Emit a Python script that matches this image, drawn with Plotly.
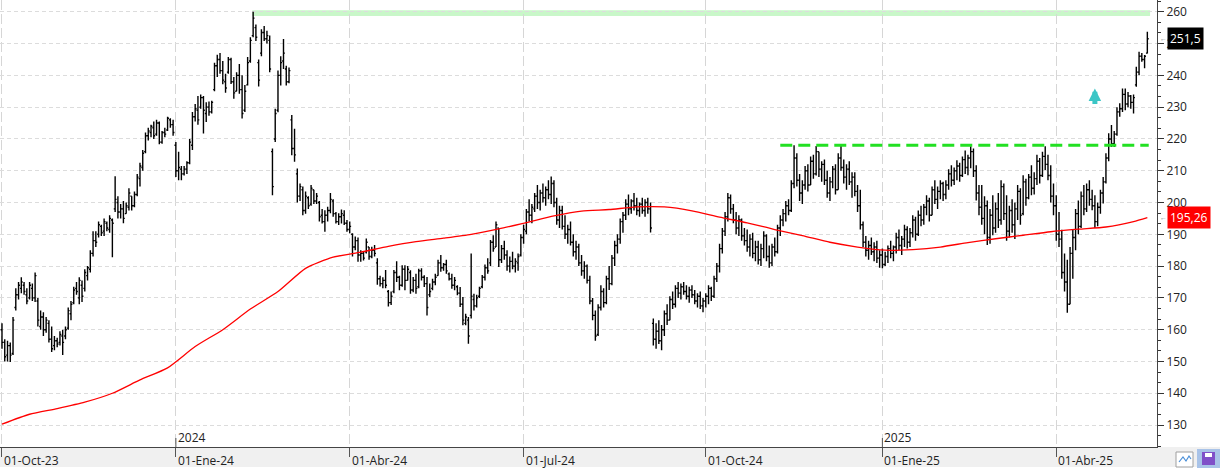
import plotly.graph_objects as go

# ---------------- data (daily bars) ----------------
opens = [
    160, 156, 152, 155, 152.5, 167, 171, 173, 174, 171,
    170, 173, 170, 169, 161, 164, 160, 162, 157, 155,
    156.5, 156, 158, 158, 160.5, 165, 168.5, 173, 170, 174,
    173, 177, 179, 184, 188, 190, 192.5, 191, 193.5, 191.5,
    194.5, 198, 200, 197, 198, 196.5, 198.5, 202, 199, 202.5,
    207.5, 211, 216, 221, 222, 223.5, 221.5, 225, 219, 222,
    222.8, 226, 224.5, 218, 210, 210.5, 209, 210.5, 212.5, 218,
    227, 229, 230, 233, 228, 230, 228.5, 235.5, 243, 245,
    241.5, 238, 241, 245, 238, 235, 240, 235.5, 229, 237,
    244.5, 252.5, 255, 244, 247, 253.5, 251.5, 251, 216, 220,
    229, 240, 244.5, 242, 238, 226, 217, 209, 202, 204,
    197.5, 201.5, 199.5, 204, 200.5, 200, 196, 194, 196, 197.5,
    200.5, 196.5, 194, 195.5, 196, 193.5, 191.5, 190, 186, 188,
    183.5, 184, 184.5, 186, 183, 185, 181, 176, 174.5, 175.5,
    172, 168.5, 172, 178, 176.5, 174, 179, 175.5, 178, 172.5,
    175.5, 173.5, 178.5, 176.5, 174.5, 171, 173, 175, 177, 181,
    179.5, 180.5, 177.5, 176, 174, 173.5, 171.5, 168, 162, 163,
    164.5, 169.5, 167.5, 170.5, 173.5, 176.5, 179.5, 181, 187.5, 186,
    192, 182, 185.5, 183.5, 180, 181.5, 180, 181, 183.5, 189,
    191, 197, 196, 198, 202, 200, 203, 201.5, 204, 202.5,
    206, 200, 194.5, 197.5, 192.5, 190, 191.5, 187.5, 184.5, 186,
    181, 178.5, 180, 175.5, 169, 164.5, 158.5, 167, 172, 168.5,
    176, 174.5, 182.5, 186.5, 188.5, 194, 196, 199.5, 198, 200.5,
    199, 197.5, 199.5, 197.5, 200, 198, 162, 157, 159.5, 156.5,
    160, 165, 163, 169.5, 168, 173, 171.5, 173.5, 172, 170.5,
    172.5, 171, 169, 170.5, 167.5, 169, 170.5, 173, 170.5, 176,
    180, 185.5, 191, 195.5, 201.5, 198, 194.5, 192, 194.5, 189.5,
    188, 186, 188.5, 184, 186, 182, 185.5, 189.5, 183, 181,
    186, 184.5, 192, 194.5, 196.5, 199, 197.5, 206, 214, 207,
    203, 205.5, 210, 205.5, 213, 209, 216, 210.5, 212, 207,
    203, 206.5, 210.5, 204, 214, 211, 208, 210.5, 206.5, 208,
    203.5, 199, 193, 187.5, 185, 186.5, 184.5, 186, 182.5, 183.5,
    180.5, 183, 185.5, 184, 186, 189, 186.5, 188.5, 191.5, 187.5,
    190.5, 194.5, 190, 196, 194.5, 198.5, 200.5, 196, 204, 201,
    203.5, 206, 202.5, 205.5, 209, 207, 210, 211.5, 208.5, 213.5,
    211, 214, 216, 210, 203, 198.5, 195, 199, 189, 196,
    192, 198, 194.5, 205, 196.5, 191, 197.5, 193, 198, 203.5,
    196.5, 206.5, 201.5, 208, 204.5, 207.5, 213, 208.5, 214.5, 212,
    208.5, 202, 199, 190, 188.5, 178, 175, 168, 184, 189,
    196.5, 192.5, 202, 198, 204, 201, 199, 194, 198.5, 203,
    206.5, 214, 220, 218.5, 221.5, 228.5, 229.5, 234, 231, 233.5,
    231.5, 237, 241, 246, 245, 247,
]
highs = [
    162, 157, 156.5, 156, 164, 173, 175, 176.5, 175, 173,
    175, 174.5, 178, 170, 166, 165.5, 164, 163, 161, 158,
    157.5, 159.5, 160, 161, 167, 169, 173.5, 175, 176.5, 175.5,
    179, 180, 185, 191, 191, 194, 193, 195, 194, 196,
    195, 208.3, 202, 199.5, 200.5, 200, 204.5, 202, 203.5, 209,
    212.5, 216.5, 222, 223.5, 224.5, 225.5, 226, 225.5, 222.5, 223.5,
    227, 226.5, 226, 219, 216, 211.5, 211.5, 213, 220, 228.5,
    231, 233.5, 234, 233.5, 231.5, 231.8, 232, 244, 246.5, 247,
    244.5, 240.5, 245.8, 245.5, 239.5, 241, 243.6, 240, 237, 245.8,
    252, 260, 256, 245, 254.5, 255.5, 254, 252.5, 217, 229.5,
    241.5, 246, 251.4, 243, 242.5, 227.5, 223.2, 210.7, 206, 205,
    203.5, 202, 205.5, 204, 203, 200.5, 198, 197.6, 198.7, 203,
    201, 197, 196.6, 197.8, 197.6, 194.5, 194, 190.3, 189.3, 189,
    185, 184.5, 188.7, 186, 186.1, 186.6, 182.5, 177, 176.5, 178.8,
    172.5, 172, 178.8, 181.5, 177, 180.3, 180.3, 180, 178.7, 176.6,
    177.6, 179.2, 179.3, 177.1, 176.6, 174.5, 176, 177.6, 182, 183.5,
    181, 182, 178, 177.6, 176.6, 174, 173.4, 170.3, 165, 164,
    184, 171.3, 171, 173.5, 177.2, 180.5, 182.5, 188.2, 189.7, 194,
    192, 186.6, 188, 185, 183, 184.5, 182.5, 184, 190, 193,
    198, 201, 199.5, 203, 205.5, 204, 206, 205, 207, 208.2,
    207, 201.5, 199, 199, 196, 193, 194, 190, 188, 187,
    183.5, 181.5, 180.5, 177, 170, 166, 168, 174, 173, 177,
    180, 183.5, 188, 190, 195, 197, 201, 202.5, 201, 203,
    201.5, 200, 201.5, 201, 201.5, 200, 163.5, 162, 163, 161.5,
    166, 168, 170.5, 172, 174, 175, 174.5, 175, 174, 173.5,
    174, 172.5, 171.5, 172, 170, 171.5, 174, 173.5, 177, 181,
    187, 192, 197, 203, 202.5, 199.5, 197, 196, 195, 192,
    191.5, 190, 190.5, 188, 188, 187, 191, 190, 186.5, 187,
    189, 193, 196, 198, 200.5, 201, 207, 218, 215.5, 209,
    207, 211.5, 212, 214.5, 215, 217.8, 216, 213, 213.5, 210,
    208, 211.5, 212, 215.5, 217.8, 213.5, 212, 213, 209.5, 209.5,
    205.5, 204, 194, 189.5, 188, 189, 187.5, 188, 185, 185.5,
    184.5, 186.5, 188, 186.5, 190.5, 191.5, 189.5, 193, 192.5, 192,
    196, 195.5, 197.5, 199, 199.5, 202.3, 201.5, 205, 207, 205,
    207, 206.5, 207, 210.5, 211.7, 211, 213.3, 212.5, 214.5, 216.4,
    215, 217.7, 217, 211.7, 205.5, 205.5, 202, 200.6, 198, 202.3,
    200, 203, 207, 206, 202.3, 199, 201, 200, 205.5, 204.5,
    208.6, 207.5, 209, 211.7, 209.5, 215, 214, 216, 217.7, 215,
    211.7, 206, 202.3, 197, 191.4, 184, 182, 186, 191.4, 198,
    200.6, 203.5, 205.5, 206, 207, 204, 202.3, 200, 204, 208,
    215.5, 221.8, 224.4, 222.5, 230, 231.2, 235.9, 235.9, 234.8, 233.8,
    234, 242.7, 247.4, 247, 246.4, 253.7,
]
lows = [
    154, 150, 150, 149.8, 152, 166, 169.5, 171.5, 171, 168,
    169.5, 169, 168.7, 161, 160, 158, 159, 156, 153, 153.5,
    154.5, 155, 152, 157, 160, 163, 168, 171, 168, 168.7,
    172, 175.5, 178, 183, 186, 189, 189.5, 189.5, 191, 190.5,
    182.8, 197, 195, 195, 193.5, 196.5, 197.5, 197.5, 198.5, 202,
    205, 210, 215.5, 219.5, 220.5, 220, 221, 218.3, 218.5, 220.5,
    222.5, 223.5, 221, 208, 207, 207, 208.5, 209, 212, 216.5,
    225.5, 224.5, 229.5, 221.7, 225.3, 227.3, 228, 235, 239.5, 240.5,
    237.2, 234.5, 240.5, 237.3, 232.6, 235, 234.2, 226.4, 228.5, 236.8,
    244, 252, 250.8, 236.5, 246, 250.8, 250, 241, 202.3, 219,
    228.4, 236.8, 242, 236.8, 237.5, 214.9, 212.8, 200, 200.5, 196,
    196.5, 198, 199, 199.5, 199.5, 194, 193.4, 190.8, 194, 196.6,
    195.5, 193.4, 192.9, 193.4, 192.9, 190.8, 190.3, 183, 185, 181.4,
    181.4, 181.8, 184, 182, 182.5, 183, 174.1, 173.6, 173, 173,
    167.3, 167.8, 171.5, 175, 172.4, 173.5, 172.4, 175.5, 171.3, 171.8,
    171.3, 173, 175.5, 173.4, 164.5, 170.3, 172.4, 174, 177, 178.2,
    178.5, 177.6, 175.5, 172.9, 172.4, 170.8, 167.1, 161.4, 161.4, 155.6,
    163.5, 166, 167, 170, 173, 175.5, 177.6, 180, 184.5, 186,
    179.7, 181, 182, 178.5, 178, 179, 178, 178.5, 183, 187,
    190, 194, 193.5, 197, 198, 197.5, 200, 199, 201, 199.5,
    198.5, 193, 192, 191.5, 188.5, 187, 186.5, 183, 182, 180,
    177, 176, 174.5, 168, 163, 156.5, 158, 166, 167, 168,
    172.5, 174, 180, 184, 187, 190.5, 194.5, 196, 196.5, 197.5,
    196, 195.5, 196.5, 195.5, 196.5, 190.6, 155, 154, 155.5, 153.5,
    158, 161.5, 163, 166.5, 167, 170, 169.5, 171, 169.5, 168.5,
    170, 168, 167, 166.5, 165.5, 167, 168, 169, 170, 175,
    178, 184, 189.5, 194, 196.5, 193.5, 190, 189.5, 188, 186.5,
    184.5, 183, 182.5, 181.5, 180.5, 180, 182.5, 181.5, 179.5, 180,
    183, 184, 189.5, 192.5, 194, 196, 197, 204.5, 205, 200.5,
    199.5, 204, 203.5, 205.5, 207.5, 208.5, 208, 206.5, 205.5, 201.5,
    200.5, 204.5, 202.5, 204, 210, 206, 204, 205.5, 201.5, 202,
    197, 191.5, 186, 183, 182, 183.5, 181.5, 181, 179.5, 179.3,
    180, 181, 182.5, 181.5, 184, 185, 183.5, 186, 185.5, 186,
    189, 188, 189.5, 192.5, 193, 196, 194, 196, 199.5, 198,
    201, 200.5, 201, 204, 205, 205.5, 207, 206.5, 208, 209,
    208.6, 210.8, 208, 200.6, 196, 193, 190, 186.6, 187, 189.7,
    190.5, 192, 193, 194.5, 188, 189, 190.5, 188.5, 194.5, 193,
    196, 199, 201, 202.3, 202.5, 205.5, 206, 208, 210.2, 207,
    200, 196, 188, 186, 176, 172, 165.3, 168, 176, 185,
    190, 192, 196, 197, 199, 197.6, 192, 192.5, 196.5, 199.7,
    206, 213, 217.5, 217.5, 221, 227, 228.5, 229, 230, 229.5,
    228, 236.4, 240, 244.3, 242.2, 246.9,
]
closes = [
    156, 151.5, 155, 152, 163, 171, 174, 175, 172, 169,
    174, 170, 177, 163, 164, 160, 163, 157, 154, 156.5,
    155.5, 158.5, 156, 160, 166, 168, 172.5, 172, 175.5, 170.5,
    178, 179.5, 184, 188, 187.5, 193, 190.5, 194, 192, 195,
    193.5, 201, 197, 198, 195, 199, 203, 199, 202.5, 208,
    211.5, 215.5, 221, 222.5, 224, 221, 225, 219, 222, 221.5,
    226.5, 224.5, 222, 210, 211, 209, 210.5, 212.5, 219, 227,
    229.5, 226, 233, 229, 230, 228.5, 231.5, 243, 245, 241.5,
    238.5, 236, 245, 238, 234.5, 240, 235.5, 228, 235, 244,
    251, 258, 252, 238.5, 253.5, 251.5, 252.5, 242, 205, 228,
    240, 244, 247, 238, 241.5, 217, 215, 202, 205, 197.5,
    202, 199, 204.5, 200.5, 202, 195.5, 194, 196, 197.5, 201,
    196.5, 194, 195.5, 196.5, 193.5, 191.5, 192.5, 186, 188, 183.5,
    184, 182.5, 187.5, 183, 185, 184, 176, 174.5, 175.5, 174,
    168.5, 170.5, 178, 176.5, 174, 179, 175.5, 179, 172.5, 175.5,
    173, 178.5, 176.5, 174.5, 167, 172, 175, 176.5, 181, 179.5,
    180.5, 178.5, 176, 174, 175.5, 171.5, 168, 163, 164, 158,
    170.5, 167.5, 170, 173, 176.5, 179.5, 178.5, 187.5, 185.5, 193,
    182, 185.5, 183.5, 180, 181.5, 180, 181.5, 183, 189, 191.5,
    197, 196, 198.5, 202, 200, 203, 201.5, 204, 202.5, 206,
    200, 194.5, 197.5, 192.5, 190, 191.5, 187.5, 184.5, 186, 181,
    178.5, 180, 175.5, 169, 164.5, 158, 167, 172, 168.5, 176,
    174.5, 182.5, 186.5, 188.5, 194, 196, 199.5, 198, 200.5, 199,
    197.5, 199.5, 197.5, 200, 198, 192, 157, 159.5, 156.5, 160,
    165, 163, 169.5, 168, 173, 171.5, 173.5, 172, 170.5, 172.5,
    171, 169, 170.5, 167.5, 169, 170.5, 173, 170.5, 176, 180,
    185.5, 191, 195.5, 201.5, 198, 194.5, 192, 194.5, 189.5, 188,
    186, 188.5, 184, 186, 182, 185.5, 189.5, 183, 181, 186,
    184.5, 192, 194.5, 196.5, 199, 197.5, 206, 214, 207, 203,
    205.5, 210, 205.5, 213, 209, 216, 210.5, 212, 207, 203,
    206.5, 210.5, 204, 214, 211, 208, 210.5, 206.5, 208, 203.5,
    199, 193, 187.5, 185, 186.5, 184.5, 186, 182.5, 183.5, 180.5,
    183, 185.5, 184, 186, 189, 186.5, 188.5, 191.5, 187.5, 190.5,
    194.5, 190, 196, 194.5, 198.5, 200.5, 196, 204, 201, 203.5,
    206, 202.5, 205.5, 209, 207, 210, 211.5, 208.5, 213.5, 211,
    214, 216, 210, 203, 198.5, 195, 199, 189, 196, 192,
    198, 194.5, 205, 196.5, 191, 197.5, 193, 198, 203.5, 196,
    206.5, 201.5, 208, 204.5, 207.5, 213, 208.5, 214.5, 212, 208.5,
    202, 199, 190, 188.5, 178, 175, 168, 184, 189, 196.5,
    192.5, 202, 198, 204, 201, 199, 194, 198.5, 203, 206.5,
    214, 220, 218.5, 221.5, 228.5, 229.5, 234, 231, 233.5, 231.5,
    233, 241, 246, 245, 246, 251.5,
]

# moving average (sampled every 10 bars)
ma_bars = [0, 10, 20, 30, 40, 50, 60, 70, 80, 90,
           100, 110, 120, 130, 140, 150, 160, 170, 180, 190,
           200, 210, 220, 230, 240, 250, 260, 270, 280, 290,
           300, 310, 320, 330, 340, 350, 360, 370, 380, 390,
           400, 410, 415]
ma_values = [130.3, 133.4, 135.2, 137.2, 140.0, 144.2, 148.0, 154.7, 160.0, 166.5,
             172.0, 179.3, 182.8, 184.4, 186.2, 187.7, 188.8, 190.0, 191.7, 193.7,
             195.8, 197.3, 197.8, 198.6, 198.6, 197.4, 195.4, 193.6, 191.5, 189.6,
             187.5, 186.0, 185.0, 185.2, 186.0, 187.4, 188.6, 189.7, 190.8, 191.6,
             192.3, 194.0, 195.26]

quarter_labels = ["01-Oct-23", "01-Ene-24", "01-Abr-24", "01-Jul-24",
                  "01-Oct-24", "01-Ene-25", "01-Abr-25"]
quarter_bars = [0, 63, 126, 189, 255, 319, 382]
year_labels = ["2024", "2025"]
year_bars = [63, 319]

top_level_low, top_level_high, top_start = 258.7, 260.5, 91
resist_level, resist_start = 218, 282
last_close_label = "251,5"
last_ma_label = "195,26"
last_close = 251.5
last_ma = 195.26
signal_bar, signal_level = 396, 235.9

bars = list(range(len(closes)))
n = len(closes)

FONT = "Open Sans, Noto Sans, Liberation Sans, sans-serif"
PLOT_W, PLOT_H = 1157, 447

fig = go.Figure()
fig.add_trace(go.Ohlc(
    x=bars, open=opens, high=highs, low=lows, close=closes,
    increasing=dict(line=dict(color="black", width=1.4)),
    decreasing=dict(line=dict(color="black", width=1.4)),
    tickwidth=0.5, hoverinfo="skip", showlegend=False,
))
fig.add_trace(go.Scatter(
    x=ma_bars, y=ma_values, mode="lines",
    line=dict(color="#ff0000", width=1.3, shape="spline", smoothing=0.6),
    hoverinfo="skip", showlegend=False,
))

shapes = []
# bottom grey strip
shapes.append(dict(type="rect", xref="paper", yref="paper", x0=-0.01, x1=1.06,
                   y0=-20 / PLOT_H, y1=0, fillcolor="#f0f0f0", line=dict(width=0), layer="below"))
# top resistance band
shapes.append(dict(type="rect", xref="x", yref="y", x0=top_start - 0.3, x1=n,
                   y0=top_level_low, y1=top_level_high, fillcolor="#c9f7c9",
                   line=dict(width=0), layer="below"))
# dashed green resistance
shapes.append(dict(type="line", xref="x", yref="y", x0=resist_start, x1=n - 0.5,
                   y0=resist_level, y1=resist_level,
                   line=dict(color="#22e022", width=3, dash="12px,6px")))
# year ticks above axis
for b in year_bars:
    shapes.append(dict(type="line", xref="x", yref="paper", x0=b, x1=b, y0=0, y1=9 / PLOT_H,
                       line=dict(color="#555555", width=1)))


def px_x(v):
    return v / PLOT_W


def px_y(v):
    return (PLOT_H - v) / PLOT_H


# icons bottom right
shapes.append(dict(type="rect", xref="paper", yref="paper", x0=px_x(1176), x1=px_x(1193),
                   y0=px_y(467), y1=px_y(452), fillcolor="white", line=dict(color="#a0a0a0", width=1)))
shapes.append(dict(type="path", xref="paper", yref="paper",
                   path="M {} {} L {} {} L {} {} L {} {} L {} {}".format(
                       px_x(1179), px_y(462), px_x(1183), px_y(457), px_x(1186), px_y(461),
                       px_x(1189), px_y(456), px_x(1191), px_y(459)),
                   line=dict(color="#4a8fd8", width=1.2)))
shapes.append(dict(type="rect", xref="paper", yref="paper", x0=px_x(1197), x1=px_x(1220),
                   y0=px_y(468), y1=px_y(449), fillcolor="#a9c3e8", line=dict(width=0)))
shapes.append(dict(type="rect", xref="paper", yref="paper", x0=px_x(1202), x1=px_x(1215),
                   y0=px_y(465), y1=px_y(452), fillcolor="#8050c8", line=dict(width=0)))
shapes.append(dict(type="rect", xref="paper", yref="paper", x0=px_x(1205), x1=px_x(1212),
                   y0=px_y(457), y1=px_y(453), fillcolor="#ffffff", line=dict(width=0)))

annotations = []
for b, lab in zip(quarter_bars, quarter_labels):
    annotations.append(dict(x=b, xref="x", y=-13 / PLOT_H, yref="paper", text=lab,
                            showarrow=False, xanchor="left", yanchor="middle", xshift=0,
                            font=dict(family=FONT, size=12, color="#222222")))
for b, lab in zip(year_bars, year_labels):
    annotations.append(dict(x=b, xref="x", y=10 / PLOT_H, yref="paper", text=lab,
                            showarrow=False, xanchor="left", yanchor="middle", xshift=0,
                            font=dict(family=FONT, size=12, color="#222222")))
# last value labels
annotations.append(dict(x=px_x(1167), xref="paper", y=last_close, yref="y",
                        text=last_close_label, showarrow=False, xanchor="left", yanchor="middle",
                        bgcolor="#000000", borderpad=2,
                        font=dict(family=FONT, size=12, color="white")))
annotations.append(dict(x=px_x(1167), xref="paper", y=last_ma, yref="y",
                        text=last_ma_label, showarrow=False, xanchor="left", yanchor="middle",
                        bgcolor="#ff0000", borderpad=2,
                        font=dict(family=FONT, size=12, color="white")))
for v in (last_close, last_ma):
    annotations.append(dict(x=px_x(1158), xref="paper", y=v, yref="y", text="←",
                            showarrow=False, xanchor="left", yanchor="middle",
                            font=dict(family=FONT, size=7, color="#888888")))
# cyan up arrow
annotations.append(dict(x=signal_bar, y=signal_level, xref="x", yref="y", text="",
                        showarrow=True, ax=0, ay=17, arrowhead=2, arrowsize=0.5,
                        arrowwidth=5, arrowcolor="#3cc6c6"))

fig.update_layout(
    width=1220, height=470,
    margin=dict(l=0, r=1220 - PLOT_W, t=0, b=470 - PLOT_H),
    paper_bgcolor="white", plot_bgcolor="white",
    showlegend=False, hovermode=False,
    shapes=shapes, annotations=annotations,
    xaxis=dict(
        range=[-0.72, 418.5], rangeslider=dict(visible=False),
        tickvals=quarter_bars, showticklabels=False,
        ticks="outside", ticklen=9, tickcolor="#555555",
        showgrid=True, gridcolor="#d6d6d6", griddash="10px,4px", gridwidth=1,
        showline=True, linecolor="#444444", linewidth=1, zeroline=False,
    ),
    yaxis=dict(
        side="right", range=[123.1, 263.7], tick0=130, dtick=10,
        ticks="outside", ticklen=6, tickcolor="#333333",
        tickfont=dict(family=FONT, size=12, color="#222222"),
        showgrid=True, gridcolor="#dcdcdc", griddash="4px,3px", gridwidth=1,
        showline=True, linecolor="#444444", linewidth=1, zeroline=False,
        minor=dict(tick0=130, dtick=10 / 3, ticks="outside", ticklen=3,
                   tickcolor="#333333", showgrid=False),
    ),
)

fig.write_html("out.html", config={"displayModeBar": False})
